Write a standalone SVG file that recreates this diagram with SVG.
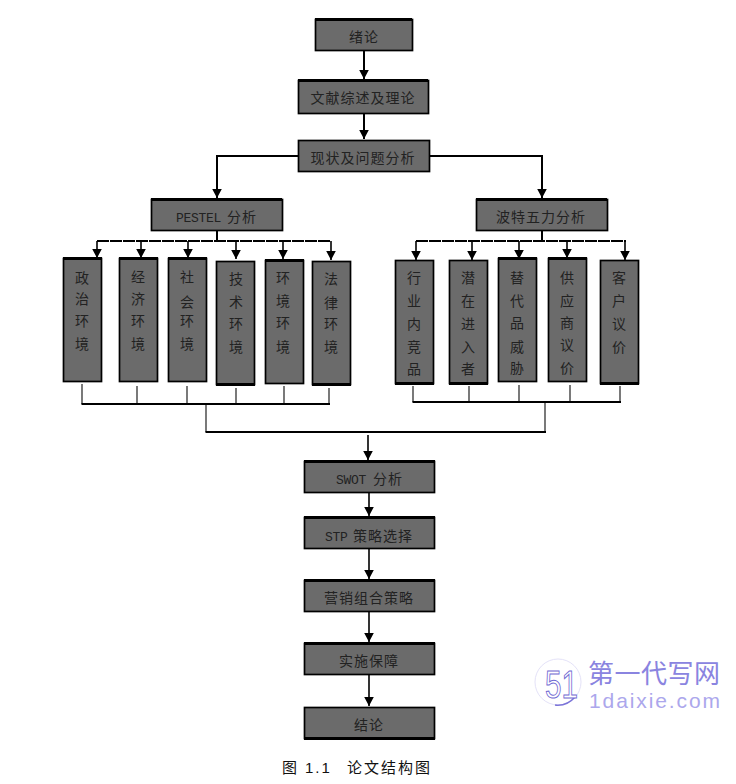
<svg xmlns="http://www.w3.org/2000/svg" width="736" height="784" viewBox="0 0 736 784">
<style>
.b{fill:#6b6b6b;stroke:#000;stroke-width:1.7}
.e{fill:none;stroke:#000;stroke-width:3}
.t{font-family:"Noto Sans CJK SC",sans-serif;font-size:14px;fill:#222;text-anchor:middle;letter-spacing:1px}
.m{font-family:"Liberation Mono","Noto Sans CJK SC",monospace;font-size:13px;fill:#222;letter-spacing:-.3px}
.k{font-family:"Noto Sans CJK SC",sans-serif;font-size:14px;fill:#222;letter-spacing:1px}
.v{font-family:"Noto Sans CJK SC",sans-serif;font-size:14px;fill:#222;text-anchor:middle}
.c{fill:none;stroke:#000;stroke-width:2}
.l{fill:none;stroke:#000;stroke-width:1.6}
.g{fill:none;stroke:#222;stroke-width:1.2}
.d{fill:none;stroke:#000;stroke-width:2;stroke-dasharray:12 1}
</style>
<defs>
<marker id="a" markerUnits="userSpaceOnUse" markerWidth="11" markerHeight="10" refX="9" refY="5" orient="auto"><path d="M0 0.200L9 5L0 9.800Z" fill="#000"/></marker>
</defs>
<g id="connectors">
<path class="c" marker-end="url(#a)" d="M364 51V79"/>
<path class="c" marker-end="url(#a)" d="M364 114V139"/>
<path class="c" marker-end="url(#a)" d="M298 156H217V198"/>
<path class="c" marker-end="url(#a)" d="M429 156H542V198"/>
<path class="c" d="M217 231V241"/>
<path class="c" d="M542 231V241"/>
<path class="d" d="M97 241H331"/>
<path class="d" d="M416 241H626"/>
<path class="l" marker-end="url(#a)" d="M97 241V258"/>
<path class="l" marker-end="url(#a)" d="M141 241V258"/>
<path class="l" marker-end="url(#a)" d="M188 241V258"/>
<path class="l" marker-end="url(#a)" d="M236 241V259"/>
<path class="l" marker-end="url(#a)" d="M283 241V259"/>
<path class="l" marker-end="url(#a)" d="M331 241V260"/>
<path class="l" marker-end="url(#a)" d="M416 241V260"/>
<path class="l" marker-end="url(#a)" d="M472 241V260"/>
<path class="l" marker-end="url(#a)" d="M519 241V259"/>
<path class="l" marker-end="url(#a)" d="M567 241V258"/>
<path class="l" marker-end="url(#a)" d="M625 241V260"/>
<path class="g" d="M82 384V404M137 386V404M187 386V404M236 388V404M284 386V404M329 388V404"/>
<path class="g" d="M413 386V402M469 386V402M519 385V402M570 385V402M620 386V402"/>
<path class="c" d="M81.500 404H330M412.500 402H621"/>
<path class="g" d="M206 405V432M545 403V432"/>
<path class="c" d="M205.500 432H546"/>
<path class="l" marker-end="url(#a)" d="M368 435V460"/>
<path class="l" marker-end="url(#a)" d="M369 493V516"/>
<path class="l" marker-end="url(#a)" d="M369 549V579"/>
<path class="l" marker-end="url(#a)" d="M369 612V642"/>
<path class="l" marker-end="url(#a)" d="M369 675V706"/>
</g>
<g id="n1"><rect class="b" x="315.500" y="19.500" width="97" height="31"/><path class="e" d="M315 19.500H412"/><text class="t" x="364" y="42">绪论</text></g>
<g id="n2"><rect class="b" x="298.500" y="80.500" width="130" height="33"/><path class="e" d="M298 80.500H428"/><text class="t" x="363" y="103">文献综述及理论</text></g>
<g id="n3"><rect class="b" x="298.500" y="140.500" width="131" height="31"/><text class="t" x="363" y="163">现状及问题分析</text></g>
<g id="n4"><rect class="b" x="151.500" y="199.500" width="131" height="31"/><path class="e" d="M151 199.500H282"/><text y="222"><tspan class="m" x="176">PESTEL</tspan><tspan class="k" x="227">分析</tspan></text></g>
<g id="n5"><rect class="b" x="476.500" y="199.500" width="131" height="31"/><path class="e" d="M476 199.500H607"/><text class="t" x="541" y="222">波特五力分析</text></g>
<g id="v1"><rect class="b" x="63.500" y="258.500" width="38" height="123"/><path class="e" d="M63 258.500H102"/><text class="v"><tspan x="82" y="283">政</tspan><tspan x="82" y="304">治</tspan><tspan x="82" y="326">环</tspan><tspan x="82" y="349">境</tspan></text></g>
<g id="v2"><rect class="b" x="119.500" y="258.500" width="38" height="123"/><path class="e" d="M119 258.500H158"/><text class="v"><tspan x="138" y="282">经</tspan><tspan x="138" y="304">济</tspan><tspan x="138" y="326">环</tspan><tspan x="138" y="349">境</tspan></text></g>
<g id="v3"><rect class="b" x="168.500" y="258.500" width="38" height="123"/><path class="e" d="M168 258.500H207"/><text class="v"><tspan x="187" y="282">社</tspan><tspan x="187" y="307">会</tspan><tspan x="187" y="326">环</tspan><tspan x="187" y="349">境</tspan></text></g>
<g id="v4"><rect class="b" x="216.500" y="261.500" width="38" height="123"/><path class="e" d="M216 384.500H255"/><text class="v"><tspan x="236" y="284">技</tspan><tspan x="236" y="307">术</tspan><tspan x="236" y="329">环</tspan><tspan x="236" y="352">境</tspan></text></g>
<g id="v5"><rect class="b" x="265.500" y="260.500" width="38" height="123"/><path class="e" d="M265 260.500H304"/><text class="v"><tspan x="283" y="283">环</tspan><tspan x="283" y="306">境</tspan><tspan x="283" y="328">环</tspan><tspan x="283" y="352">境</tspan></text></g>
<g id="v6"><rect class="b" x="312.500" y="261.500" width="38" height="123"/><path class="e" d="M312 384.500H351"/><text class="v"><tspan x="331" y="284">法</tspan><tspan x="331" y="308">律</tspan><tspan x="331" y="329">环</tspan><tspan x="331" y="352">境</tspan></text></g>
<g id="r1"><rect class="b" x="395.500" y="260.500" width="38" height="123"/><path class="e" d="M395 383.500H434"/><text class="v"><tspan x="414" y="283">行</tspan><tspan x="414" y="306">业</tspan><tspan x="414" y="329">内</tspan><tspan x="414" y="352">竞</tspan><tspan x="414" y="374">品</tspan></text></g>
<g id="r2"><rect class="b" x="449.500" y="260.500" width="38" height="123"/><path class="e" d="M449 383.500H488"/><text class="v"><tspan x="468" y="283">潜</tspan><tspan x="468" y="306">在</tspan><tspan x="468" y="329">进</tspan><tspan x="468" y="352">入</tspan><tspan x="468" y="374">者</tspan></text></g>
<g id="r3"><rect class="b" x="498.500" y="258.500" width="38" height="123"/><path class="e" d="M498 258.500H537"/><text class="v"><tspan x="517" y="283">替</tspan><tspan x="517" y="306">代</tspan><tspan x="517" y="328">品</tspan><tspan x="517" y="352">威</tspan><tspan x="517" y="373">胁</tspan></text></g>
<g id="r4"><rect class="b" x="548.500" y="258.500" width="38" height="123"/><path class="e" d="M548 258.500H587"/><text class="v"><tspan x="567" y="283">供</tspan><tspan x="567" y="306">应</tspan><tspan x="567" y="328">商</tspan><tspan x="567" y="350">议</tspan><tspan x="567" y="373">价</tspan></text></g>
<g id="r5"><rect class="b" x="600.500" y="260.500" width="38" height="123"/><path class="e" d="M600 383.500H639"/><text class="v"><tspan x="619" y="283">客</tspan><tspan x="619" y="306">户</tspan><tspan x="619" y="329">议</tspan><tspan x="619" y="352">价</tspan></text></g>
<g id="n6"><rect class="b" x="304.500" y="461.500" width="130" height="31"/><path class="e" d="M304 461.500H435"/><text y="484"><tspan class="m" x="336">SWOT</tspan><tspan class="k" x="373">分析</tspan></text></g>
<g id="n7"><rect class="b" x="304.500" y="517.500" width="130" height="31"/><path class="e" d="M304 517.500H435"/><text y="541"><tspan class="m" x="325">STP</tspan><tspan class="k" x="353">策略选择</tspan></text></g>
<g id="n8"><rect class="b" x="304.500" y="580.500" width="130" height="31"/><path class="e" d="M304 580.500H435"/><text class="t" x="369" y="603">营销组合策略</text></g>
<g id="n9"><rect class="b" x="304.500" y="643.500" width="130" height="31"/><path class="e" d="M304 643.500H435"/><text class="t" x="369" y="666">实施保障</text></g>
<g id="n10"><rect class="b" x="304.500" y="707.500" width="130" height="31"/><path class="e" d="M304 738.500H435"/><text class="t" x="369" y="730">结论</text></g>
<text y="773" font-family="'Liberation Sans','Noto Sans CJK SC',sans-serif" font-size="15" fill="#111" letter-spacing="2"><tspan x="282">图</tspan><tspan x="305">1.1</tspan><tspan x="347">论文结构图</tspan></text>
<g id="watermark" font-family="'Liberation Sans','Noto Sans CJK SC',sans-serif">
<circle cx="558" cy="682" r="23" fill="none" stroke="#e4e2f8"/>
<path d="M575 697A23 23 0 0 1 555 705" fill="none" stroke="#7b74d8" stroke-width="1.500"/>
<text x="545" y="698" font-size="38" textLength="33" lengthAdjust="spacingAndGlyphs" fill="#fff" stroke="#6f68d2" stroke-width="1">51</text>
<text x="588" y="683" font-size="26" textLength="132" fill="#8a84e0">第一代写网</text>
<text x="589" y="708" font-size="21" textLength="131" fill="#aca7ec">1daixie.com</text>
</g>
</svg>
